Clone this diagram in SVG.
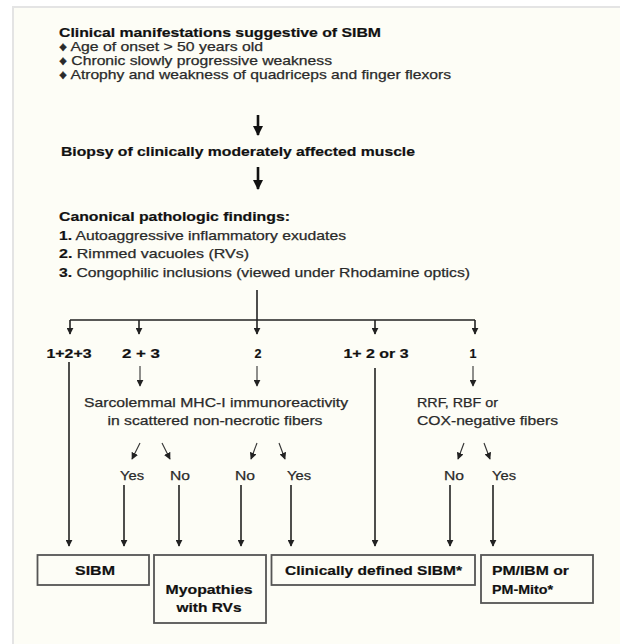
<svg xmlns="http://www.w3.org/2000/svg" width="620" height="644" viewBox="0 0 620 644">
<style>
text{font-family:"Liberation Sans",Arial,sans-serif;fill:#2a2a2a;font-size:13px;stroke:#2a2a2a;stroke-width:0.25}
.b{font-weight:bold;fill:#111;stroke:#111;stroke-width:0.2}
.s{font-size:12.5px}
.c{text-anchor:middle}
.ln{stroke:#222;stroke-width:1.6;fill:none}
.th{stroke:#111;stroke-width:2.6;fill:none}
.tn{stroke:#333;stroke-width:1.1;fill:none}
.box{fill:none;stroke:#555;stroke-width:1.8}
</style>
<defs>
<marker id="ah" viewBox="0 0 10 10" refX="9" refY="5" markerWidth="7" markerHeight="7" markerUnits="userSpaceOnUse" orient="auto"><path d="M0,0 L10,5 L0,10 z" fill="#222"/></marker>
<marker id="ahb" viewBox="0 0 10 10" refX="9" refY="5" markerWidth="10" markerHeight="10" markerUnits="userSpaceOnUse" orient="auto"><path d="M0,0 L10,5 L0,10 z" fill="#111"/></marker>
</defs>
<rect x="0" y="0" width="620" height="644" fill="#fff"/>
<rect x="13" y="7" width="620" height="650" fill="#FDFDF6" stroke="#E4E4E4" stroke-width="2"/>

<g id="clinical">
<text class="b" x="59" y="37" textLength="322" lengthAdjust="spacingAndGlyphs">Clinical manifestations suggestive of SIBM</text>
<text x="59" y="51" textLength="204" lengthAdjust="spacingAndGlyphs">♦ Age of onset &gt; 50 years old</text>
<text x="59" y="65" textLength="273" lengthAdjust="spacingAndGlyphs">♦ Chronic slowly progressive weakness</text>
<text x="59" y="79" textLength="392" lengthAdjust="spacingAndGlyphs">♦ Atrophy and weakness of quadriceps and finger flexors</text>
</g>
<g id="biopsy">
<text class="b" x="61" y="156" textLength="354" lengthAdjust="spacingAndGlyphs">Biopsy of clinically moderately affected muscle</text>
</g>
<g id="findings">
<text class="b" x="59" y="221" textLength="231" lengthAdjust="spacingAndGlyphs">Canonical pathologic findings:</text>
<text x="59" y="240" textLength="287" lengthAdjust="spacingAndGlyphs"><tspan class="b">1.</tspan> Autoaggressive inflammatory exudates</text>
<text x="59" y="258" textLength="190" lengthAdjust="spacingAndGlyphs"><tspan class="b">2.</tspan> Rimmed vacuoles  (RVs)</text>
<text x="59" y="277" textLength="411" lengthAdjust="spacingAndGlyphs"><tspan class="b">3.</tspan> Congophilic inclusions (viewed under Rhodamine optics)</text>
</g>
<g id="combos">
<text class="b c s" x="69" y="358" textLength="45" lengthAdjust="spacingAndGlyphs">1+2+3</text>
<text class="b c s" x="141" y="358" textLength="38" lengthAdjust="spacingAndGlyphs">2 + 3</text>
<text class="b c s" x="258" y="358">2</text>
<text class="b c s" x="376" y="358" textLength="65" lengthAdjust="spacingAndGlyphs">1+ 2 or 3</text>
<text class="b c s" x="473" y="358">1</text>
</g>
<g id="mhc">
<text class="c" x="216" y="407" textLength="264" lengthAdjust="spacingAndGlyphs">Sarcolemmal MHC-I immunoreactivity</text>
<text class="c" x="215" y="425" textLength="215" lengthAdjust="spacingAndGlyphs">in scattered non-necrotic fibers</text>
</g>
<g id="rrf">
<text x="417" y="407" textLength="81" lengthAdjust="spacingAndGlyphs">RRF, RBF or</text>
<text x="417" y="425" textLength="141" lengthAdjust="spacingAndGlyphs">COX-negative fibers</text>
</g>
<g id="answers">
<text class="c" x="132" y="480" textLength="24" lengthAdjust="spacingAndGlyphs">Yes</text>
<text class="c" x="180" y="480" textLength="20" lengthAdjust="spacingAndGlyphs">No</text>
<text class="c" x="245" y="480" textLength="20" lengthAdjust="spacingAndGlyphs">No</text>
<text class="c" x="299" y="480" textLength="24" lengthAdjust="spacingAndGlyphs">Yes</text>
<text class="c" x="454" y="480" textLength="20" lengthAdjust="spacingAndGlyphs">No</text>
<text class="c" x="504" y="480" textLength="24" lengthAdjust="spacingAndGlyphs">Yes</text>
</g>
<g id="sibm">
<rect class="box" x="37.5" y="555" width="111.5" height="30"/>
<text class="b c" x="95" y="575" textLength="40" lengthAdjust="spacingAndGlyphs">SIBM</text>
</g>
<g id="myopathies">
<rect class="box" x="154" y="555" width="112" height="68"/>
<text class="b c" x="209" y="594" textLength="87" lengthAdjust="spacingAndGlyphs">Myopathies</text>
<text class="b c" x="209" y="612" textLength="65" lengthAdjust="spacingAndGlyphs">with RVs</text>
</g>
<g id="clinically-defined">
<rect class="box" x="271.5" y="555" width="203.5" height="30"/>
<text class="b" x="285" y="575" textLength="177" lengthAdjust="spacingAndGlyphs">Clinically defined SIBM*</text>
</g>
<g id="pm-ibm">
<rect class="box" x="481" y="555" width="112" height="48"/>
<text class="b" x="492" y="575" textLength="77" lengthAdjust="spacingAndGlyphs">PM/IBM or</text>
<text class="b" x="492" y="594" textLength="61" lengthAdjust="spacingAndGlyphs">PM-Mito*</text>
</g>

<g id="connectors">
<line class="th" x1="258" y1="115" x2="258" y2="135" marker-end="url(#ahb)"/>
<line class="th" x1="258" y1="167" x2="258" y2="189" marker-end="url(#ahb)"/>
<path class="ln" d="M257,290 V320 M70,320 H475"/>
<line class="ln" x1="70" y1="320" x2="70" y2="334" marker-end="url(#ah)"/>
<line class="ln" x1="139" y1="320" x2="139" y2="334" marker-end="url(#ah)"/>
<line class="ln" x1="257" y1="320" x2="257" y2="334" marker-end="url(#ah)"/>
<line class="ln" x1="375" y1="320" x2="375" y2="334" marker-end="url(#ah)"/>
<line class="ln" x1="475" y1="320" x2="475" y2="334" marker-end="url(#ah)"/>
<line class="tn" x1="140" y1="366" x2="140" y2="386" marker-end="url(#ah)"/>
<line class="tn" x1="257" y1="366" x2="257" y2="386" marker-end="url(#ah)"/>
<line class="tn" x1="473" y1="366" x2="473" y2="386" marker-end="url(#ah)"/>
<line class="tn" x1="140" y1="443" x2="132" y2="459" marker-end="url(#ah)"/>
<line class="tn" x1="162" y1="443" x2="170" y2="459" marker-end="url(#ah)"/>
<line class="tn" x1="257" y1="443" x2="251" y2="459" marker-end="url(#ah)"/>
<line class="tn" x1="279" y1="443" x2="285" y2="459" marker-end="url(#ah)"/>
<line class="tn" x1="464" y1="443" x2="458" y2="459" marker-end="url(#ah)"/>
<line class="tn" x1="484" y1="443" x2="490" y2="459" marker-end="url(#ah)"/>
<line class="ln" x1="69" y1="362" x2="69" y2="546" marker-end="url(#ah)"/>
<line class="ln" x1="375" y1="368" x2="375" y2="546" marker-end="url(#ah)"/>
<line class="ln" x1="124" y1="485" x2="124" y2="546" marker-end="url(#ah)"/>
<line class="ln" x1="179" y1="485" x2="179" y2="546" marker-end="url(#ah)"/>
<line class="ln" x1="241" y1="485" x2="241" y2="546" marker-end="url(#ah)"/>
<line class="ln" x1="291" y1="485" x2="291" y2="546" marker-end="url(#ah)"/>
<line class="ln" x1="450" y1="485" x2="450" y2="546" marker-end="url(#ah)"/>
<line class="ln" x1="493" y1="485" x2="493" y2="546" marker-end="url(#ah)"/>
</g>
</svg>
